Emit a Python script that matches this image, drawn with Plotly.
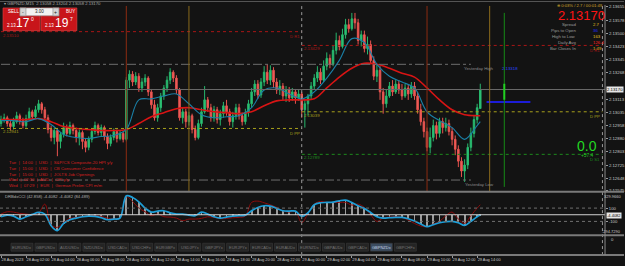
import plotly.graph_objects as go
import pandas as pd

W, H = 625, 266
FONT = "Liberation Sans, Arial, sans-serif"
BG = "#131313"


def px(x):
    return x / W


def py(y):
    return 1 - y / H


# ---------------- data ----------------
bar_start = pd.Timestamp("2023-08-28 00:00")

opens = [2.12970, 2.12993, 2.13004, 2.12970, 2.12952, 2.12981, 2.13016, 2.12987, 2.12958, 2.12999,
         2.13039, 2.13010, 2.13051, 2.13086, 2.13051, 2.13004, 2.12935, 2.12888, 2.12929, 2.12865,
         2.12906, 2.12946, 2.12912, 2.12958, 2.12929, 2.12888, 2.12917, 2.12865, 2.12830, 2.12877,
         2.12923, 2.12958, 2.12917, 2.12946, 2.12894, 2.12853, 2.12888, 2.12923, 2.12882, 2.12912,
         2.12877, 2.13225, 2.13260, 2.13214, 2.13248, 2.13179, 2.13214, 2.13237, 2.13156, 2.13080,
         2.13004, 2.13063, 2.13132, 2.13179, 2.13225, 2.13272, 2.13237, 2.13167, 2.13004, 2.13039,
         2.12981, 2.13016, 2.12935, 2.12888, 2.12970, 2.13039, 2.13109, 2.13063, 2.13004, 2.13051,
         2.12993, 2.13028, 2.13074, 2.13039, 2.12981, 2.13016, 2.13063, 2.13016, 2.12981, 2.13034,
         2.13086, 2.13156, 2.13202, 2.13138, 2.13214, 2.13272, 2.13225, 2.13283, 2.13214, 2.13167,
         2.13190, 2.13132, 2.13167, 2.13121, 2.13156, 2.13121, 2.13144, 2.13051, 2.13086, 2.13132,
         2.13190, 2.13237, 2.13272, 2.13225, 2.13307, 2.13353, 2.13318, 2.13400, 2.13458, 2.13423,
         2.13492, 2.13551, 2.13527, 2.13585, 2.13562, 2.13458, 2.13492, 2.13411, 2.13434, 2.13341,
         2.13248, 2.13283, 2.13156, 2.13086, 2.13132, 2.13190, 2.13156, 2.13202, 2.13167, 2.13132,
         2.13179, 2.13144, 2.13190, 2.13132, 2.13051, 2.12981, 2.12923, 2.12830, 2.12888, 2.12958,
         2.12912, 2.12981, 2.12946, 2.12970, 2.12923, 2.12877, 2.12819, 2.12749, 2.12691, 2.12726,
         2.12830, 2.12912, 2.12993, 2.13058]
highs = [2.13016, 2.13028, 2.13016, 2.12993, 2.13004, 2.13039, 2.13028, 2.13004, 2.13022, 2.13063,
         2.13051, 2.13074, 2.13109, 2.13097, 2.13068, 2.13022, 2.12958, 2.12946, 2.12941, 2.12917,
         2.12975, 2.12964, 2.12981, 2.12970, 2.12946, 2.12935, 2.12929, 2.12882, 2.12894, 2.12941,
         2.12981, 2.12970, 2.12964, 2.12958, 2.12912, 2.12906, 2.12941, 2.12935, 2.12929, 2.12923,
         2.13243, 2.13283, 2.13278, 2.13272, 2.13266, 2.13237, 2.13260, 2.13248, 2.13173, 2.13109,
         2.13086, 2.13150, 2.13196, 2.13248, 2.13295, 2.13283, 2.13254, 2.13179, 2.13063, 2.13057,
         2.13039, 2.13028, 2.12958, 2.12993, 2.13063, 2.13190, 2.13126, 2.13086, 2.13074, 2.13068,
         2.13051, 2.13097, 2.13109, 2.13057, 2.13039, 2.13086, 2.13086, 2.13034, 2.13057, 2.13109,
         2.13179, 2.13225, 2.13225, 2.13237, 2.13307, 2.13318, 2.13312, 2.13301, 2.13237, 2.13225,
         2.13208, 2.13190, 2.13185, 2.13179, 2.13173, 2.13167, 2.13156, 2.13109, 2.13144, 2.13214,
         2.13260, 2.13307, 2.13295, 2.13341, 2.13388, 2.13376, 2.13429, 2.13504, 2.13487, 2.13527,
         2.13585, 2.13585, 2.13620, 2.13620, 2.13585, 2.13516, 2.13516, 2.13481, 2.13458, 2.13365,
         2.13318, 2.13307, 2.13179, 2.13167, 2.13214, 2.13225, 2.13225, 2.13225, 2.13202, 2.13202,
         2.13202, 2.13214, 2.13214, 2.13156, 2.13086, 2.13004, 2.12946, 2.12946, 2.12993, 2.12981,
         2.13004, 2.13004, 2.13004, 2.12993, 2.12946, 2.12900, 2.12842, 2.12772, 2.12760, 2.12853,
         2.12946, 2.13016, 2.13086, 2.13204]
lows = [2.12952, 2.12975, 2.12952, 2.12929, 2.12935, 2.12970, 2.12964, 2.12941, 2.12946, 2.12987,
        2.12993, 2.12999, 2.13034, 2.13028, 2.12987, 2.12912, 2.12865, 2.12848, 2.12778, 2.12824,
        2.12888, 2.12894, 2.12900, 2.12906, 2.12859, 2.12842, 2.12819, 2.12801, 2.12813, 2.12859,
        2.12906, 2.12900, 2.12894, 2.12871, 2.12819, 2.12836, 2.12871, 2.12859, 2.12871, 2.12859,
        2.12865, 2.13179, 2.13190, 2.13196, 2.13156, 2.13156, 2.13190, 2.13132, 2.13057, 2.12987,
        2.12981, 2.13039, 2.13109, 2.13156, 2.13202, 2.13214, 2.13144, 2.12987, 2.12970, 2.12946,
        2.12958, 2.12912, 2.12871, 2.12877, 2.12952, 2.13028, 2.13039, 2.12981, 2.12981, 2.12970,
        2.12958, 2.13004, 2.13016, 2.12958, 2.12946, 2.12993, 2.12993, 2.12958, 2.12964, 2.13010,
        2.13063, 2.13132, 2.13115, 2.13121, 2.13190, 2.13202, 2.13196, 2.13179, 2.13144, 2.13138,
        2.13109, 2.13097, 2.13097, 2.13103, 2.13086, 2.13103, 2.13004, 2.12946, 2.13016, 2.13109,
        2.13167, 2.13214, 2.13202, 2.13214, 2.13283, 2.13295, 2.13307, 2.13376, 2.13400, 2.13411,
        2.13469, 2.13504, 2.13516, 2.13527, 2.13434, 2.13423, 2.13388, 2.13376, 2.13318, 2.13225,
        2.13214, 2.13109, 2.13028, 2.13063, 2.13121, 2.13132, 2.13144, 2.13144, 2.13109, 2.13121,
        2.13109, 2.13121, 2.13109, 2.13028, 2.12958, 2.12888, 2.12807, 2.12795, 2.12865, 2.12877,
        2.12888, 2.12912, 2.12923, 2.12900, 2.12842, 2.12784, 2.12714, 2.12656, 2.12627, 2.12702,
        2.12807, 2.12888, 2.12970, 2.13058]
closes = [2.12993, 2.13004, 2.12970, 2.12952, 2.12981, 2.13016, 2.12987, 2.12958, 2.12999, 2.13039,
          2.13010, 2.13051, 2.13086, 2.13051, 2.13004, 2.12935, 2.12888, 2.12929, 2.12865, 2.12906,
          2.12946, 2.12912, 2.12958, 2.12929, 2.12888, 2.12917, 2.12865, 2.12830, 2.12877, 2.12923,
          2.12958, 2.12917, 2.12946, 2.12894, 2.12853, 2.12888, 2.12923, 2.12882, 2.12912, 2.12877,
          2.13225, 2.13260, 2.13214, 2.13248, 2.13179, 2.13214, 2.13237, 2.13156, 2.13080, 2.13004,
          2.13063, 2.13132, 2.13179, 2.13225, 2.13272, 2.13237, 2.13167, 2.13004, 2.13039, 2.12981,
          2.13016, 2.12935, 2.12888, 2.12970, 2.13039, 2.13109, 2.13063, 2.13004, 2.13051, 2.12993,
          2.13028, 2.13074, 2.13039, 2.12981, 2.13016, 2.13063, 2.13016, 2.12981, 2.13034, 2.13086,
          2.13156, 2.13202, 2.13138, 2.13214, 2.13272, 2.13225, 2.13283, 2.13214, 2.13167, 2.13190,
          2.13132, 2.13167, 2.13121, 2.13156, 2.13121, 2.13144, 2.13051, 2.13086, 2.13132, 2.13190,
          2.13237, 2.13272, 2.13225, 2.13307, 2.13353, 2.13318, 2.13400, 2.13458, 2.13423, 2.13492,
          2.13551, 2.13527, 2.13585, 2.13562, 2.13458, 2.13492, 2.13411, 2.13434, 2.13341, 2.13248,
          2.13283, 2.13156, 2.13086, 2.13132, 2.13190, 2.13156, 2.13202, 2.13167, 2.13132, 2.13179,
          2.13144, 2.13190, 2.13132, 2.13051, 2.12981, 2.12923, 2.12830, 2.12888, 2.12958, 2.12912,
          2.12981, 2.12946, 2.12970, 2.12923, 2.12877, 2.12819, 2.12749, 2.12691, 2.12726, 2.12830,
          2.12912, 2.12993, 2.13063, 2.13170]
times = pd.date_range(bar_start, periods=len(closes), freq="15min")

ma_hours = list(range(39)) + [38.25]
ma_fast = [2.12987, 2.12987, 2.12981, 2.12999, 2.12964, 2.12906, 2.12888, 2.12882, 2.12894, 2.12900,
           2.12935, 2.13109, 2.13115, 2.13132, 2.13144, 2.13086, 2.13022, 2.13004, 2.13010, 2.13016,
           2.13063, 2.13167, 2.13179, 2.13144, 2.13115, 2.13156, 2.13237, 2.13341, 2.13469, 2.13446,
           2.13318, 2.13248, 2.13214, 2.13179, 2.13039, 2.12987, 2.12946, 2.12877, 2.12958, 2.12981]
ma_slow = [2.12993, 2.12993, 2.12993, 2.12999, 2.12981, 2.12952, 2.12941, 2.12935, 2.12929, 2.12929,
           2.12935, 2.12970, 2.13010, 2.13034, 2.13057, 2.13063, 2.13051, 2.13039, 2.13034, 2.13028,
           2.13039, 2.13074, 2.13103, 2.13109, 2.13109, 2.13115, 2.13179, 2.13243, 2.13295, 2.13324,
           2.13318, 2.13295, 2.13266, 2.13243, 2.13179, 2.13109, 2.13051, 2.13022, 2.13016, 2.13016]
ma_times = [bar_start + pd.Timedelta(hours=h) for h in ma_hours]

cci_hours = [h / 2 for h in range(77)] + [38.25]
cci_main = [-30, -5, -20, -65, -30, 5, 35, 10, -165, -240, -130, -75, -50, -30, -20, -25, -45, -75, -65, -50,
            285, 260, 195, 100, 40, 55, 60, 30, 10, 10, -5, -15, 40, 10, -30, -50, -35, -20, -15, -5,
            60, 110, 135, 130, 95, 60, 55, 55, -25, 30, 150, 180, 185, 190, 210, 220, 185, 135, 95, 35,
            -30, -50, -45, -40, -40, -60, -95, -140, -180, -150, -120, -105, -100, -120, -160, -100, -30, -4.4082]
cci_signal = [10, 45, 40, 20, 10, 0, 25, 160, -150, -190, -115, -55, -40, -30, -20, -15, -25, -50, -65, -50,
              270, 200, 100, 45, -15, 10, -30, -35, -50, -90, -65, -65, -55, -30, -40, -60, -55, -45, -40, -20,
              185, 205, 180, 150, 110, 60, 40, 50, -120, 20, 160, 200, 185, 185, 185, 185, 145, 160, 110, 0,
              -100, -50, -35, -30, -40, -80, -130, -170, -180, -140, -100, -15, 40, -65, -130, -15, 100, 150]
cci_times = [bar_start + pd.Timedelta(hours=h) for h in cci_hours]
cci_range = [-294.729, 329.966]

x_tick_hours = list(range(0, 39, 2))
x_tick_text = ["28 Aug 2023", "28 Aug 02:00", "28 Aug 04:00", "28 Aug 06:00", "28 Aug 08:00",
               "28 Aug 10:00", "28 Aug 12:00", "28 Aug 14:00", "28 Aug 16:00", "28 Aug 18:00",
               "28 Aug 20:00", "28 Aug 22:00", "29 Aug 00:00", "29 Aug 02:00", "29 Aug 04:00",
               "29 Aug 06:00", "29 Aug 08:00", "29 Aug 10:00", "29 Aug 12:00", "29 Aug 14:00"]
x_tick_times = [bar_start + pd.Timedelta(hours=h) for h in x_tick_hours]

price_ticks = [2.13655, 2.13578, 2.13500, 2.13423, 2.13345, 2.13268, 2.13113, 2.13035,
               2.12958, 2.12880, 2.12803, 2.12725, 2.12648, 2.12575]
price_range = [2.125745, 2.136610]
bid_price = 2.13170

# pivot levels
level_names = ["D R1", "D PP", "D R1", "D PP", "D S1"]
level_prices = [2.13510, 2.12941, 2.13429, 2.13039, 2.12789]
level_start = ["2023-08-28 00:00", "2023-08-28 00:00", "2023-08-29 00:00", "2023-08-29 00:00", "2023-08-29 00:00"]
level_end = ["2023-08-29 00:00", "2023-08-29 00:00", "2023-08-30 00:00", "2023-08-30 00:00", "2023-08-30 00:00"]
level_colors = ["#a81616", "#a8a01c", "#a81616", "#a8a01c", "#1d8a1d"]

yday_high = 2.13318
yday_low = 2.12638
yday_end = "2023-08-29 13:30"
blue_level = 2.13097
blue_start, blue_end = "2023-08-29 14:45", "2023-08-29 18:15"

session_lines = ["2023-08-28 10:00", "2023-08-28 15:00", "2023-08-29 10:00", "2023-08-29 15:00"]
session_colors = ["#8c2c12", "#8a6a1c", "#8c2c12", "#8a6a1c"]
day_lines = ["2023-08-29 00:00", "2023-08-30 00:00"]
timer_line = "2023-08-29 16:10"

news = ["Tue  |  14:00  |  USD  |  S&P/CS Composite-20 HPI y/y",
        "Tue  |  15:00  |  USD  |  CB Consumer Confidence",
        "Tue  |  15:00  |  USD  |  JOLTS Job Openings",
        "Wed  |  02:30  |  AUD  |  CPI y/y",
        "Wed  |  07:29  |  EUR  |  German Prelim CPI m/m"]

symbols = ["EURUSDx", "GBPUSDx", "AUDUSDx", "NZDUSDx", "USDCADx", "USDCHFx", "EURGBPx", "USDJPYx",
           "GBPJPYx", "EURJPYx", "EURCADx", "EURAUDx", "EURNZDx", "GBPAUDx", "GBPCADx", "GBPNZDx", "GBPCHFx"]
active_symbol = "GBPNZDx"

info_labels = ["Spread", "Pips to Open", "High to Low", "Daily Avg", "Bar Closes In"]
info_values = ["2.7", "36", "163", "126.4", "1:49"]
info_colors = ["#e0c020", "#2230ff", "#e0c020", "#ff2020", "#e0c020"]

# ---------------- figure ----------------
fig = go.Figure()

fig.add_trace(go.Candlestick(
    x=times, open=opens, high=highs, low=lows, close=closes,
    increasing=dict(line=dict(color="#27b76c", width=1), fillcolor="#2fc57a"),
    decreasing=dict(line=dict(color="#e8534f", width=1), fillcolor="#f0625d"),
    whiskerwidth=0, xaxis="x", yaxis="y", showlegend=False, hoverinfo="skip"))

fig.add_trace(go.Scatter(x=ma_times, y=ma_slow, mode="lines", line=dict(color="#d81414", width=1.6, shape="spline"),
                         xaxis="x", yaxis="y", hoverinfo="skip"))
fig.add_trace(go.Scatter(x=ma_times, y=ma_fast, mode="lines", line=dict(color="#1a7fa6", width=1.1, shape="spline"),
                         xaxis="x", yaxis="y", hoverinfo="skip"))

# CCI panel
fig.add_trace(go.Bar(x=cci_times, y=cci_main, width=240000, marker=dict(color="#9c9c9c", line=dict(width=0)),
                     xaxis="x", yaxis="y2", hoverinfo="skip"))
fig.add_trace(go.Scatter(x=cci_times, y=cci_signal, mode="lines", line=dict(color="#8e0c0c", width=1, shape="spline"),
                         xaxis="x", yaxis="y2", hoverinfo="skip"))
fig.add_trace(go.Scatter(x=cci_times, y=cci_main, mode="lines", line=dict(color="#1c9ed8", width=1.7, shape="spline"),
                         xaxis="x", yaxis="y2", hoverinfo="skip"))
# empty panel holder
fig.add_trace(go.Scatter(x=[times[0]], y=[0.5], mode="markers", marker=dict(opacity=0),
                         xaxis="x", yaxis="y3", hoverinfo="skip"))

shapes = []
for p, s, e, c in zip(level_prices, level_start, level_end, level_colors):
    shapes.append(dict(type="line", xref="x", yref="y", x0=s, x1=e, y0=p, y1=p,
                       line=dict(color=c, width=1, dash="dot")))
for p in (yday_high, yday_low):
    shapes.append(dict(type="line", xref="x", yref="y", x0=str(bar_start), x1=yday_end, y0=p, y1=p,
                       line=dict(color="#6e6e6e", width=1, dash="dashdot")))
shapes.append(dict(type="line", xref="paper", yref="y", x0=0, x1=px(606), y0=bid_price, y1=bid_price,
                   line=dict(color="#6a6a6a", width=1)))
shapes.append(dict(type="line", xref="x", yref="y", x0=blue_start, x1=blue_end, y0=blue_level, y1=blue_level,
                   line=dict(color="#1c1cd8", width=2)))
for t, c in zip(session_lines, session_colors):
    shapes.append(dict(type="line", xref="x", yref="paper", x0=t, x1=t, y0=py(193), y1=py(5),
                       line=dict(color=c, width=1)))
for t in day_lines:
    shapes.append(dict(type="line", xref="x", yref="paper", x0=t, x1=t, y0=py(257), y1=py(5),
                       line=dict(color="#9a9a9a", width=1, dash="dot")))
shapes.append(dict(type="line", xref="x", yref="paper", x0=timer_line, x1=timer_line, y0=py(188), y1=py(12),
                   line=dict(color="#168a16", width=1)))
shapes.append(dict(type="line", xref="x", yref="y", x0=timer_line, x1=timer_line, y0=2.13109, y1=2.13204,
                   line=dict(color="#22d022", width=2)))
for v, d, c in ((100, "dot", "#707070"), (-100, "dot", "#707070"), (0, "solid", "#d0d0d0")):
    shapes.append(dict(type="line", xref="paper", yref="y2", x0=0, x1=px(606), y0=v, y1=v,
                       line=dict(color=c, width=1, dash=d)))
for yy in (193, 237, 257):
    shapes.append(dict(type="line", xref="paper", yref="paper", x0=0, x1=1, y0=py(yy), y1=py(yy),
                       line=dict(color="#7a7a7a", width=2)))
shapes.append(dict(type="line", xref="paper", yref="paper", x0=px(606), x1=px(606), y0=py(257), y1=py(4),
                   line=dict(color="#8a8a8a", width=1)))
shapes.append(dict(type="line", xref="paper", yref="paper", x0=0, x1=1, y0=py(0.5), y1=py(0.5),
                   line=dict(color="#555555", width=1)))
shapes.append(dict(type="rect", xref="paper", yref="paper", x0=px(3), x1=px(40), y0=py(30), y1=py(7),
                   fillcolor="#c8151a", line=dict(color="#e24848", width=0.6)))
shapes.append(dict(type="rect", xref="paper", yref="paper", x0=px(41), x1=px(77), y0=py(30), y1=py(7),
                   fillcolor="#c8151a", line=dict(color="#e24848", width=0.6)))
shapes.append(dict(type="rect", xref="paper", yref="paper", x0=px(20), x1=px(59), y0=py(15), y1=py(7),
                   fillcolor="#f2f2f2", line=dict(color="#8a8a8a", width=0.6)))
for x0 in (20, 53):
    shapes.append(dict(type="rect", xref="paper", yref="paper", x0=px(x0), x1=px(x0 + 6), y0=py(15), y1=py(7),
                       fillcolor="#d4d4d4", line=dict(color="#8a8a8a", width=0.6)))
for k, s in enumerate(symbols):
    x0 = 11 + k * 24
    act = s == active_symbol
    shapes.append(dict(type="rect", xref="paper", yref="paper", x0=px(x0), x1=px(x0 + 22), y0=py(253), y1=py(245),
                       fillcolor="#3b4c60" if act else "#242424", line=dict(color="#3a3a3a", width=0.6)))

fig.update_layout(shapes=shapes)


def txt(x, y, s, size=4.5, color="#b4b4b4", xa="left", ya="middle", **kw):
    return dict(xref="paper", yref="paper", x=px(x), y=py(y), text=s, showarrow=False, xanchor=xa, yanchor=ya,
                font=dict(family=FONT, size=size, color=color), **kw)


ann = []
ann.append(txt(2, 3, "\u25be GBPNZD,M15  2.13058 2.13204 2.13058 2.13170", size=4.2, color="#a8a8a8"))
ann.append(txt(6, 11, "SELL", size=4.5, color="#ffffff"))
ann.append(txt(64, 11, "BUY", size=4.5, color="#ffffff"))
ann.append(txt(39.5, 11, "3.00", size=4.5, color="#202020", xa="center"))
ann.append(txt(23, 11, "-", size=5, color="#202020", xa="center"))
ann.append(txt(56, 11, "+", size=5, color="#202020", xa="center"))
ann.append(txt(5, 25, "2.13", size=4.5, color="#ffffff"))
ann.append(txt(14, 22.5, "17", size=12, color="#ffffff"))
ann.append(txt(29, 18, "0", size=5, color="#ffffff"))
ann.append(txt(43, 25, "2.13", size=4.5, color="#ffffff"))
ann.append(txt(53, 22.5, "19", size=12, color="#ffffff"))
ann.append(txt(68, 18, "7", size=5, color="#ffffff"))
# info panel
ann.append(txt(606, 5, "\u2295 0:03% / 2.7 / 00:01:49", size=4.2, color="#d4a62a", xa="right"))
ann.append(txt(582, 14.5, "2.13170", size=13, color="#ff1414", xa="center", borderpad=0))
for i, (lab, val, col) in enumerate(zip(info_labels, info_values, info_colors)):
    yy = 24 + i * 6.1
    ann.append(txt(578, yy, lab, size=4.3, color="#9c9c9c", xa="right", borderpad=0))
    ann.append(txt(593, yy, val, size=4.3, color=col, borderpad=0))
ann.append(txt(588, 147, "0.0", size=14, color="#22d822", xa="center", borderpad=0))
ann.append(txt(588, 156.5, "+57.4", size=4.8, color="#22c822", xa="center", borderpad=0))
# level labels
for n, p, s, e, c in zip(level_names, level_prices, level_start, level_end, level_colors):
    ann.append(dict(xref="x", yref="y", x=s, y=p, text=f"{p:.5f}", showarrow=False, xanchor="left", yanchor="top",
                    xshift=1, borderpad=0, font=dict(family=FONT, size=4.3, color=c)))
    ann.append(dict(xref="x", yref="y", x=e, y=p, text=n, showarrow=False, xanchor="right", yanchor="top",
                    xshift=-1, yshift=-1.5, borderpad=0, font=dict(family=FONT, size=4.2, color=c)))
ann.append(dict(xref="paper", yref="y", x=px(497), y=yday_high, text="Yesterday High", showarrow=False,
                xanchor="right", yanchor="top", font=dict(family=FONT, size=4.3, color="#8c8c8c")))
ann.append(dict(xref="paper", yref="y", x=px(501), y=yday_high, text="2.13318", showarrow=False,
                xanchor="left", yanchor="top", font=dict(family=FONT, size=4.3, color="#2a48ff")))
ann.append(dict(xref="paper", yref="y", x=px(497), y=yday_low, text="Yesterday Low", showarrow=False,
                xanchor="right", yanchor="top", font=dict(family=FONT, size=4.3, color="#8c8c8c")))
for i, line in enumerate(news):
    ann.append(txt(7, 163 + i * 6, line, size=4.3, color="#d42020"))
ann.append(dict(xref="paper", yref="y", x=px(607), y=bid_price, text="2.13170", showarrow=False, xanchor="left",
                yanchor="middle", bgcolor="#e6e6e6", borderpad=0,
                font=dict(family=FONT, size=4.3, color="#000000")))
# CCI labels
ann.append(txt(3, 198, "DRBdxCCI (42.858) -4.4082 -4.4082 (84.489)", size=4.2, color="#b0b0b0"))
ann.append(txt(624, 198, "329.9660", size=4.0, color="#c8c8c8", xa="right"))
ann.append(txt(624, 233, "-294.7290", size=4.0, color="#c8c8c8", xa="right"))
ann.append(dict(xref="paper", yref="y2", x=px(607), y=cci_main[-1], text=f"{cci_main[-1]:.4f}", showarrow=False,
                xanchor="left", yanchor="middle", bgcolor="#e6e6e6", borderpad=0,
                font=dict(family=FONT, size=4.0, color="#000000")))
ann.append(txt(610, 241, "0", size=4.2, color="#c8c8c8"))
for k, s in enumerate(symbols):
    x0 = 11 + k * 24
    act = s == active_symbol
    ann.append(txt(x0 + 11, 249, s, size=4, color="#c8d4e4" if act else "#767676", xa="center"))

fig.update_layout(
    annotations=ann,
    width=W, height=H, margin=dict(l=0, r=0, t=0, b=0),
    paper_bgcolor=BG, plot_bgcolor=BG, showlegend=False, hovermode=False,
    font=dict(family=FONT, size=5, color="#c8c8c8"),
    bargap=0,
    xaxis=dict(type="date", domain=[0, px(606)], range=["2023-08-27 23:55:13", "2023-08-30 00:12:25"],
               anchor="y3", showgrid=False, zeroline=False, showline=False, rangeslider=dict(visible=False),
               tickvals=x_tick_times, ticktext=x_tick_text, tickangle=0, ticks="outside", ticklen=2,
               tickcolor="#9a9a9a", tickfont=dict(family=FONT, size=3.9, color="#c8c8c8"),
               ticklabelposition="outside right"),
    yaxis=dict(domain=[py(192), py(5)], range=price_range, side="right", anchor="x", showgrid=False,
               zeroline=False, showline=False, tickvals=price_ticks, tickformat=".5f", ticks="outside",
               ticklen=2, tickcolor="#9a9a9a", tickfont=dict(family=FONT, size=4.3, color="#c8c8c8")),
    yaxis2=dict(domain=[py(236), py(194)], range=cci_range, side="right", anchor="x", showgrid=False,
                zeroline=False, showline=False, tickvals=[100, -100], ticktext=["100", "-100"], ticks="outside",
                ticklen=2, tickcolor="#9a9a9a", tickfont=dict(family=FONT, size=4.2, color="#c8c8c8")),
    yaxis3=dict(domain=[py(257), py(238)], range=[0, 1], side="right", anchor="x", showgrid=False,
                zeroline=False, showline=False, showticklabels=False),
)

fig.write_html("out.html")
